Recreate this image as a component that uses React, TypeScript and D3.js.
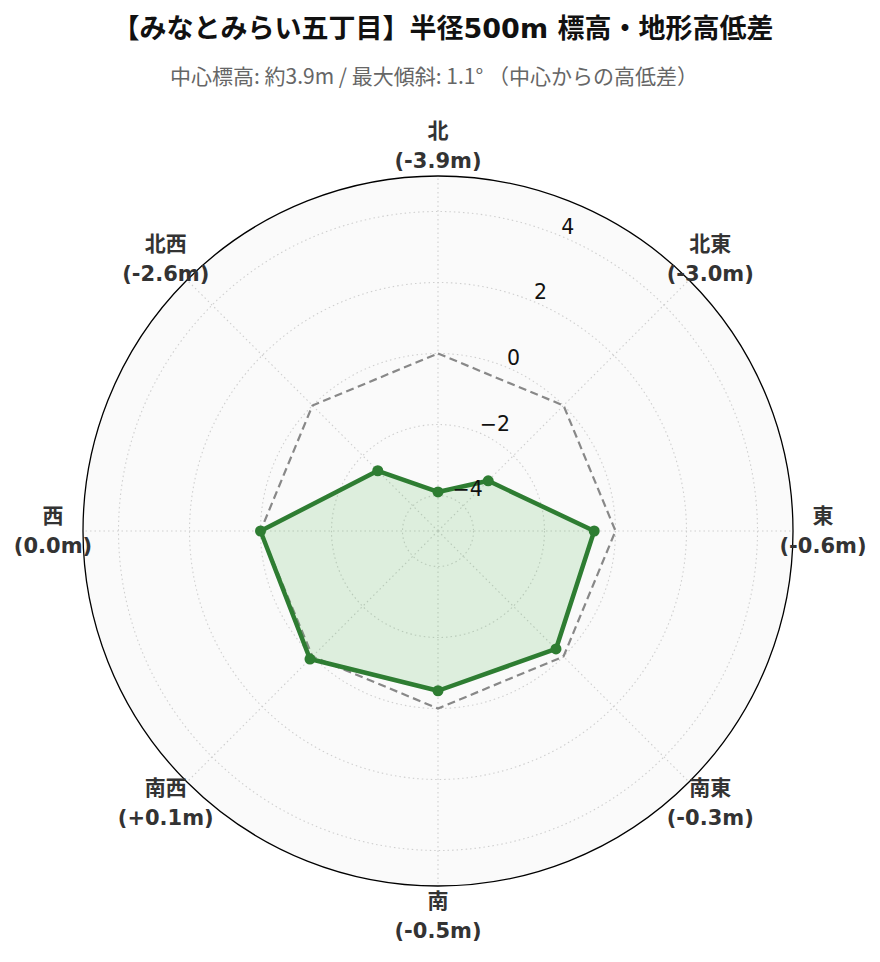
import React from "react";
import * as d3 from "d3";

const directions = ["北", "北東", "東", "南東", "南", "南西", "西", "北西"];
const diffs = [-3.9, -3.0, -0.6, -0.3, -0.5, 0.1, 0.0, -2.6];
const diffLabels = ["-3.9m", "-3.0m", "-0.6m", "-0.3m", "-0.5m", "+0.1m", "0.0m", "-2.6m"];
const refValues = [0, 0, 0, 0, 0, 0, 0, 0];
const rTicks = [-4, -2, 0, 2, 4];
const rDomain = [-5, 5];
const titleText = "【みなとみらい五丁目】半径500m 標高・地形高低差";
const subtitleText = "中心標高: 約3.9m / 最大傾斜: 1.1° （中心からの高低差）";

const W = 880;
const H = 962;
const cx = 438;
const cy = 531;
const R = 355;
const FONT = "'DejaVu Sans', 'Noto Sans CJK JP', sans-serif";
const CJK = "'Noto Sans CJK JP', 'DejaVu Sans', sans-serif";

export default function App() {
  const r = d3.scaleLinear().domain(rDomain).range([0, R]);
  const ang = d3
    .scalePoint<string>()
    .domain(directions)
    .range([0, (2 * Math.PI * (directions.length - 1)) / directions.length]);

  const pt = (a: number, rad: number): [number, number] => [
    cx + rad * Math.sin(a),
    cy - rad * Math.cos(a),
  ];

  const lineGen = d3
    .lineRadial<number>()
    .angle((_, i) => ang(directions[i]) as number)
    .radius((d) => r(d))
    .curve(d3.curveLinearClosed);

  const tickAngle = (22.5 * Math.PI) / 180;

  return (
    <svg
      width={W}
      height={H}
      style={{ position: "absolute", left: 0, top: 0, background: "#fff" }}
      fontFamily={FONT}
    >
      <rect width={W} height={H} fill="#fff" />
      <text
        x={443}
        y={38}
        textAnchor="middle"
        fontSize={27}
        fontWeight="bold"
        fill="#111"
      >
        {titleText}
      </text>
      <text
        x={434}
        y={84}
        textAnchor="middle"
        fontSize={21}
        fill="#666"
        fontFamily={CJK}
      >
        {subtitleText}
      </text>

      <circle cx={cx} cy={cy} r={R} fill="#fafafa" />

      {rTicks.map((t) => (
        <circle
          key={"g" + t}
          cx={cx}
          cy={cy}
          r={r(t)}
          fill="none"
          stroke="#cfcfcf"
          strokeWidth={1.1}
          strokeDasharray="1.5,3"
        />
      ))}
      {directions.map((d) => {
        const [x2, y2] = pt(ang(d) as number, R);
        return (
          <line
            key={"s" + d}
            x1={cx}
            y1={cy}
            x2={x2}
            y2={y2}
            stroke="#cfcfcf"
            strokeWidth={1.1}
            strokeDasharray="1.5,3"
          />
        );
      })}

      <g transform={`translate(${cx},${cy})`}>
        <path
          d={lineGen(refValues) || ""}
          fill="none"
          stroke="#888"
          strokeWidth={2.2}
          strokeDasharray="8,4.5"
        />
        <path
          d={lineGen(diffs) || ""}
          fill="#4caf50"
          fillOpacity={0.17}
          stroke="#2e7d32"
          strokeWidth={4.5}
          strokeLinejoin="round"
        />
      </g>
      {diffs.map((v, i) => {
        const [x, y] = pt(ang(directions[i]) as number, r(v));
        return <circle key={"m" + i} cx={x} cy={y} r={5.5} fill="#2e7d32" />;
      })}

      {rTicks.map((t) => {
        const [x, y] = pt(tickAngle, r(t));
        return (
          <text key={"t" + t} x={x + 1} y={y - 2} fontSize={20.5} fill="#111">
            {t < 0 ? "\u2212" + Math.abs(t) : String(t)}
          </text>
        );
      })}

      <circle cx={cx} cy={cy} r={R} fill="none" stroke="#000" strokeWidth={1.3} />

      {directions.map((d, i) => {
        const [x, y] = pt(ang(d) as number, 385);
        return (
          <text
            key={"l" + d}
            x={x}
            textAnchor="middle"
            fontSize={21}
            fontWeight="bold"
            fill="#333"
          >
            <tspan x={x} y={y - 8}>
              {d}
            </tspan>
            <tspan x={x} y={y + 22}>
              {"(" + diffLabels[i] + ")"}
            </tspan>
          </text>
        );
      })}
    </svg>
  );
}
